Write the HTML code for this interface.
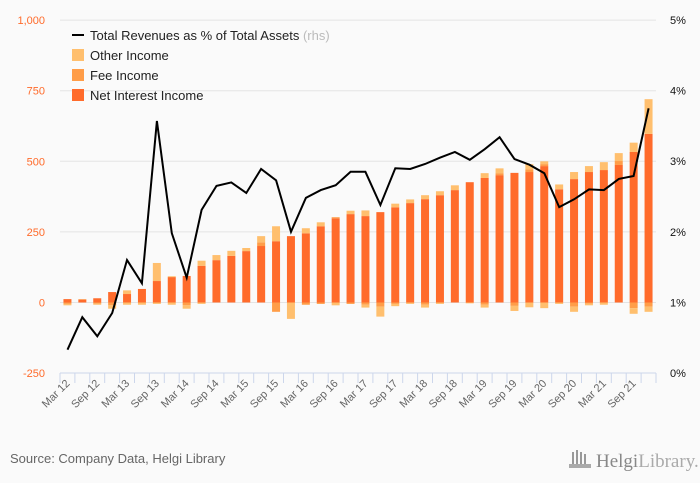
<!DOCTYPE html>
<html><head><meta charset="utf-8"><style>
html,body{margin:0;padding:0;background:#fafafa;}
svg{display:block;font-family:"Liberation Sans",sans-serif;}
</style></head><body>
<svg id="chart" width="700" height="483" viewBox="0 0 700 483">
<rect x="0" y="0" width="700" height="483" fill="#fafafa"/>
<g id="grid"></g>
<g id="bars"></g>
<g id="line"></g>
<g id="axes"></g>
<g>
  <g>
    <line x1="72" y1="35" x2="84" y2="35" stroke="#000" stroke-width="2"/>
    <text x="90" y="40" font-size="13" fill="#222">Total Revenues as % of Total Assets <tspan fill="#bbb">(rhs)</tspan></text>
  </g>
  <g>
    <rect x="72" y="49" width="12" height="12" fill="#ffbf6e"/>
    <text x="90" y="60" font-size="13" fill="#222">Other Income</text>
  </g>
  <g>
    <rect x="72" y="69" width="12" height="12" fill="#ff9d48"/>
    <text x="90" y="80" font-size="13" fill="#222">Fee Income</text>
  </g>
  <g>
    <rect x="72" y="89" width="12" height="12" fill="#ff6b2b"/>
    <text x="90" y="100" font-size="13" fill="#222">Net Interest Income</text>
  </g>
</g>
<text x="10" y="463" font-size="13" fill="#666">Source: Company Data, Helgi Library</text>
<g>
  <rect x="572" y="452" width="2" height="14" fill="#999"/><rect x="576" y="450" width="2" height="16" fill="#999"/><rect x="580" y="452" width="2" height="14" fill="#999"/><rect x="584" y="454" width="2" height="12" fill="#999"/><rect x="569" y="464" width="22" height="4" fill="#aaa"/>
  <text x="596" y="467" font-family="Liberation Serif,serif" font-size="19" fill="#888">Helgi<tspan fill="#aaa">Library.</tspan></text>
</g>
</svg>
<script>
const categories = ["Mar 12","Jun 12","Sep 12","Dec 12","Mar 13","Jun 13","Sep 13","Dec 13","Mar 14","Jun 14","Sep 14","Dec 14","Mar 15","Jun 15","Sep 15","Dec 15","Mar 16","Jun 16","Sep 16","Dec 16","Mar 17","Jun 17","Sep 17","Dec 17","Mar 18","Jun 18","Sep 18","Dec 18","Mar 19","Jun 19","Sep 19","Dec 19","Mar 20","Jun 20","Sep 20","Dec 20","Mar 21","Jun 21","Sep 21","Dec 21"];
const netInterest = [12,10,15,37,30,48,76,90,94,130,150,165,182,200,217,235,245,270,298,313,306,320,337,352,366,380,398,426,441,451,459,462,483,401,437,462,469,487,533,597];
const feeIncome = [-5,2,-4,-10,0,0,0,0,-10,0,0,0,0,13,-33,0,-8,-5,4,-5,-8,-15,-5,0,-8,0,0,0,-8,7,-12,10,7,0,-15,-4,0,14,-20,-15];
const otherIncome = [-5,0,-4,-12,13,-8,64,3,-12,18,18,18,11,22,53,-58,18,14,-10,12,20,-35,13,13,14,14,17,-3,17,17,-18,18,10,17,25,21,28,28,33,123];
const otherNeg = [0,0,0,0,-8,0,-5,-8,0,-5,0,0,0,0,0,0,0,0,0,0,-10,0,-8,-5,-10,-5,0,0,-10,0,0,-17,-20,-5,-18,-6,-8,0,-20,-18];
const revenuePct = [0.33,0.79,0.52,0.85,1.60,1.27,3.57,1.98,1.35,2.31,2.65,2.70,2.55,2.89,2.73,2.00,2.48,2.59,2.66,2.85,2.85,2.38,2.90,2.89,2.96,3.05,3.13,3.02,3.17,3.34,3.03,2.95,2.83,2.35,2.46,2.60,2.59,2.75,2.79,3.75];
const leftTicks = [-250,0,250,500,750,1000];
const leftTickLabels = ["-250","0","250","500","750","1,000"];
const rightTicks = [0,1,2,3,4,5];
const rightTickLabels = ["0%","1%","2%","3%","4%","5%"];

const NS="http://www.w3.org/2000/svg";
const X0=60, X1=656, band=(X1-X0)/categories.length;
const yL=v=>302.5-(v)*(70.6/250);
const yR=v=>373-v*70.6;
const xc=i=>X0+band*(i+0.5);
function mk(tag,attrs,parent){const e=document.createElementNS(NS,tag);for(const k in attrs)e.setAttribute(k,attrs[k]);parent.appendChild(e);return e;}
const grid=document.getElementById('grid'),bars=document.getElementById('bars'),line=document.getElementById('line'),axes=document.getElementById('axes');

leftTicks.forEach((t,i)=>{
  if(t!==-250){const g=mk('line',{x1:X0,x2:X1,y1:yL(t),y2:yL(t),stroke:'#e4e4e4','stroke-width':1},grid);
  
  }
  const tx=mk('text',{x:45,y:yL(t)+4,'text-anchor':'end','font-size':11,fill:'#ff6b2b'},axes);
  tx.textContent=leftTickLabels[i];
  
  
});
rightTicks.forEach((t,i)=>{
  const tx=mk('text',{x:670,y:yR(t)+4,'font-size':11,fill:'#111'},axes);
  tx.textContent=rightTickLabels[i];
  
  
});
const ax=mk('line',{x1:X0,x2:X1,y1:373,y2:373,stroke:'#ccd6eb'},axes);


for(let i=0;i<=categories.length;i++){
  const tk=mk('line',{x1:X0+band*i,x2:X0+band*i,y1:373,y2:383,stroke:'#ccd6eb'},axes);
  
  
}
categories.forEach((c,i)=>{
  if(i%2) return;
  const x=xc(i)+3,y=384;
  const tx=mk('text',{x:x,y:y,'text-anchor':'end','font-size':11,fill:'#666',transform:`rotate(-45 ${x} ${y})`},axes);
  tx.textContent=c;
  
  
});
const W=8;
function seg(i,a,b,color,name){
  if(a===b) return;
  const y1=yL(Math.max(a,b)),y2=yL(Math.min(a,b));
  const r=mk('rect',{x:xc(i)-W/2,y:y1,width:W,height:y2-y1,fill:color},bars);
  
  
}
categories.forEach((c,i)=>{
  let pos=0,neg=0;
  const parts=[[netInterest[i],'#ff6b2b','bar-net-interest'],[feeIncome[i],'#ff9d48','bar-fee-income'],[otherIncome[i],'#ffbf6e','bar-other-income'],[otherNeg[i],'#ffbf6e','bar-other-income']];
  parts.forEach(p=>{
    const v=p[0];
    if(v>=0){seg(i,pos,pos+v,p[1],p[2]);pos+=v;}
    else{seg(i,neg,neg+v,p[1],p[2]);neg+=v;}
  });
});
const pts=revenuePct.map((v,i)=>`${xc(i).toFixed(1)},${yR(v).toFixed(1)}`).join(' ');
const pl=mk('polyline',{points:pts,fill:'none',stroke:'#000','stroke-width':2,'stroke-linejoin':'miter'},line);


</script>
</body></html>
